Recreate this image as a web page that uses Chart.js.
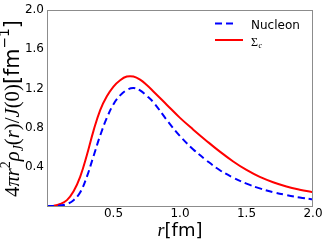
<!DOCTYPE html>
<html>
<head>
<meta charset="utf-8">
<script src="https://cdn.jsdelivr.net/npm/chart.js@4"></script>
<style>
  html, body { margin: 0; padding: 0; background: #fff; }
  #wrap { width: 325px; height: 243px; }
</style>
</head>
<body>
<div id="wrap"><canvas id="densityChart" width="325" height="243"></canvas></div>
<script>
// r values in fm
const rValues = [0, 0.05, 0.1, 0.15, 0.2, 0.25, 0.3, 0.35, 0.4, 0.45, 0.5, 0.55, 0.6, 0.65, 0.7, 0.75,
    0.8, 0.9, 1.0, 1.1, 1.2, 1.3, 1.4, 1.5, 1.6, 1.7, 1.8, 1.9, 2.0];
// 4 pi r^2 rho_J(r) / J(0)
const nucleonValues = [0, 0, 0.005, 0.02, 0.06, 0.14, 0.3, 0.51, 0.72, 0.9, 1.04, 1.13, 1.185, 1.205, 1.18, 1.125,
    1.06, 0.88, 0.714, 0.578, 0.465, 0.365, 0.29, 0.228, 0.18, 0.142, 0.112, 0.087, 0.067];
const sigmaCValues = [0, 0.003, 0.02, 0.06, 0.15, 0.3, 0.52, 0.77, 0.98, 1.12, 1.22, 1.285, 1.322, 1.322, 1.29, 1.235,
    1.17, 1.035, 0.9, 0.78, 0.665, 0.555, 0.455, 0.368, 0.297, 0.243, 0.2, 0.167, 0.14];
const xTicks = [0.5, 1.0, 1.5, 2.0];
const yTicks = [0.4, 0.8, 1.2, 1.6, 2.0];

const toPoints = (vals) => rValues.map((r, i) => ({ x: r, y: vals[i] }));

// frame, axis titles and legend (math text needs sub/superscripts)
const decorations = {
    id: "decorations",
    afterDraw(chart) {
        const ctx = chart.ctx;
        const area = chart.chartArea;
        ctx.save();

        // frame around the plot
        ctx.strokeStyle = "#8c8c8c";
        ctx.lineWidth = 1;
        ctx.strokeRect(Math.round(area.left) + 0.5, Math.round(area.top) + 0.5,
            Math.round(area.right - area.left) - 1, Math.round(area.bottom - area.top));

        ctx.fillStyle = "#000";
        ctx.textBaseline = "alphabetic";

        // pieces: [text, style, family, size, baseline shift]; k scales sizes
        const font = (p, k) => `${p[1]} ${p[3] * k}px '${p[2]}'`;
        function piecesWidth(pieces, k) {
            let w = 0;
            pieces.forEach((p) => { ctx.font = font(p, k); w += ctx.measureText(p[0]).width; });
            return w;
        }
        function drawPieces(pieces, cx, baseY, k) {
            let x = cx - piecesWidth(pieces, k) / 2;
            pieces.forEach((p) => {
                ctx.font = font(p, k);
                ctx.fillText(p[0], x, baseY + p[4] * k);
                x += ctx.measureText(p[0]).width;
            });
        }

        const S = "Liberation Serif", D = "DejaVu Sans";

        // x title
        drawPieces([["r", "italic", S, 18, 0], ["[fm]", "normal", D, 18, 0]], 180, 236, 1);

        // y title, rotated and fitted to the reference length
        const yTitle = [
            ["4", "normal", S, 18, 0], ["πr", "italic", S, 18, 0], ["2", "normal", S, 12, -7],
            ["ρ", "italic", S, 18, 0], ["J", "italic", S, 12, 4],
            ["(", "normal", S, 18, 0], ["r", "italic", S, 18, 0], [")/", "normal", S, 18, 0],
            ["J", "italic", S, 18, 0], ["(0)", "normal", S, 18, 0],
            ["[fm", "normal", D, 18, 0], ["−1", "normal", D, 12, -8], ["]", "normal", D, 18, 0]
        ];
        const k = 177 / piecesWidth(yTitle, 1);
        ctx.save();
        ctx.translate(18.5, 108.5);
        ctx.rotate(-Math.PI / 2);
        drawPieces(yTitle, 0, 0, k);
        ctx.restore();

        // legend
        const ds = chart.data.datasets;
        ctx.lineWidth = 2;
        ctx.strokeStyle = ds[0].borderColor;
        ctx.setLineDash(ds[0].borderDash);
        ctx.beginPath();
        ctx.moveTo(215, 23.5);
        ctx.lineTo(236, 23.5);
        ctx.stroke();
        ctx.setLineDash([]);
        ctx.strokeStyle = ds[1].borderColor;
        ctx.beginPath();
        ctx.moveTo(215, 40);
        ctx.lineTo(243, 40);
        ctx.stroke();

        ctx.font = "12px 'DejaVu Sans'";
        ctx.fillText("Nucleon", 251, 28.5);
        ctx.font = "12px 'Liberation Serif'";
        ctx.fillText("Σ", 251, 45.5);
        const sw = ctx.measureText("Σ").width;
        ctx.font = "italic 8px 'Liberation Serif'";
        ctx.fillText("c", 251 + sw + 0.5, 47.5);

        ctx.restore();
    }
};

const ctx = document.getElementById("densityChart").getContext("2d");
new Chart(ctx, {
    type: "line",
    data: {
        datasets: [
            {
                label: "Nucleon",
                data: toPoints(nucleonValues),
                borderColor: "#0000ff",
                borderWidth: 2,
                borderDash: [7, 4],
                pointRadius: 0,
                tension: 0.4,
                fill: false,
            },
            {
                label: "Σc",
                data: toPoints(sigmaCValues),
                borderColor: "#ff0000",
                borderWidth: 2,
                pointRadius: 0,
                tension: 0.4,
                fill: false,
            },
        ],
    },
    options: {
        responsive: false,
        animation: false,
        layout: { padding: { top: 7, right: 12, left: 0, bottom: 0 } },
        plugins: {
            legend: { display: false },
            tooltip: { enabled: false },
        },
        scales: {
            x: {
                type: "linear",
                min: 0,
                max: 2,
                grid: { display: false, drawTicks: false },
                border: { display: false },
                afterBuildTicks: (scale) => { scale.ticks = xTicks.map((v) => ({ value: v })); },
                afterFit: (scale) => { scale.height = 37; },
                ticks: {
                    padding: 1,
                    color: "#000",
                    font: { family: "DejaVu Sans", size: 12 },
                    callback: (v) => v.toFixed(1),
                },
            },
            y: {
                min: 0,
                max: 2,
                grid: { display: false, drawTicks: false },
                border: { display: false },
                afterBuildTicks: (scale) => { scale.ticks = yTicks.map((v) => ({ value: v })); },
                afterFit: (scale) => { scale.width = 47; },
                ticks: {
                    padding: 3,
                    color: "#000",
                    font: { family: "DejaVu Sans", size: 12 },
                    callback: (v) => v.toFixed(1),
                },
            },
        },
    },
    plugins: [decorations],
});
</script>
</body>
</html>
